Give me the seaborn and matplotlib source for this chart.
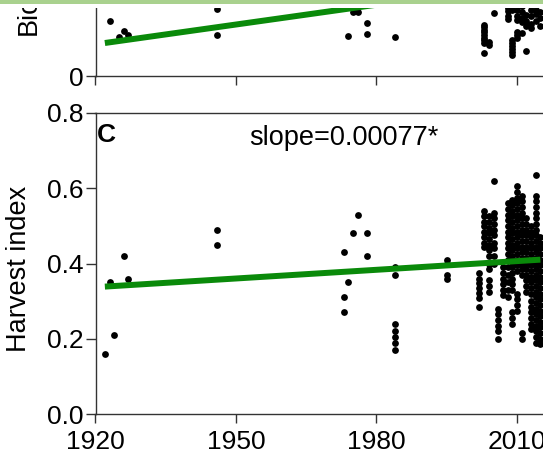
import matplotlib
matplotlib.use("Agg")
import matplotlib.pyplot as plt
from matplotlib.patches import Rectangle
import numpy as np
import pandas as pd
import seaborn as sns

# ---------------- data ----------------
# Panel B (biomass) - only the lower part is visible
bio_early_years = [1923, 1925, 1926, 1927, 1946, 1946, 1974, 1975, 1976, 1978, 1978, 1984]
bio_early_values = [5.5, 3.9, 4.5, 4.1, 6.7, 4.1, 4.0, 6.4, 6.4, 5.3, 4.2, 3.9]
bio_2003 = [5.1, 4.9, 4.6, 4.4, 4.1, 3.8, 3.6, 3.3, 2.3]
bio_2004 = [3.1, 3.4]
bio_2005 = [6.3, 7.2, 7.6]
bio_2007 = [7.5, 8.0]
bio_2008 = [6.8, 6.5, 6.0, 5.7, 7.5, 8.2]
bio_2009 = [3.6, 3.3, 3.0, 2.7, 2.4, 2.1, 6.6, 7.0, 8.0]
bio_2010 = [4.4, 4.1, 3.8, 5.6, 6.0, 6.6, 7.2, 8.5]
bio_2011 = [4.3, 5.4, 5.8, 6.4, 7.0]
bio_2012 = [2.5, 5.0, 5.5, 6.1, 7.3]
bio_2013 = [4.8, 5.2, 6.0, 6.6, 7.8]
bio_2014 = [5.5, 6.2, 6.6, 8.0]
bio_2015 = [5.0, 5.8, 6.4, 7.4]
bio_fit = {"start": 1922, "end": 2015, "intercept_1922": 3.3, "slope": 0.066}

# Panel C (harvest index)
hi_early_years = [1922, 1923, 1924, 1926, 1927, 1946, 1946, 1973, 1973, 1973, 1974,
                  1975, 1976, 1978, 1978, 1984, 1984, 1984, 1984, 1984, 1984, 1984,
                  1995, 1995, 1995, 1995]
hi_early_values = [0.16, 0.35, 0.21, 0.42, 0.36, 0.49, 0.45, 0.43, 0.31, 0.27, 0.35,
                   0.48, 0.53, 0.48, 0.42, 0.39, 0.37, 0.24, 0.22, 0.205, 0.19, 0.17,
                   0.41, 0.40, 0.37, 0.36]
hi_2002 = [0.375, 0.36, 0.348, 0.334, 0.321, 0.308, 0.285]
hi_2003 = [0.54, 0.525, 0.51, 0.50, 0.485, 0.47, 0.455, 0.445]
hi_2004 = [0.525, 0.51, 0.495, 0.48, 0.465, 0.45, 0.435, 0.42, 0.40, 0.385, 0.355, 0.34, 0.325]
hi_2005 = [0.62, 0.535, 0.52, 0.505, 0.49, 0.475, 0.455, 0.44, 0.42, 0.40]
hi_2006 = [0.28, 0.265, 0.25, 0.235, 0.22, 0.20]
hi_2007 = [0.39, 0.375, 0.36, 0.345, 0.33, 0.315]
hi_2008 = [0.56, 0.545, 0.53, 0.515, 0.50, 0.485, 0.47, 0.455, 0.44, 0.425, 0.41,
           0.39, 0.37, 0.35, 0.33, 0.31]
hi_2009 = [0.57, 0.555, 0.54, 0.525, 0.51, 0.495, 0.48, 0.465, 0.45, 0.435, 0.42,
           0.405, 0.39, 0.375, 0.36, 0.345, 0.33, 0.27, 0.255, 0.24]
hi_2010 = [0.605, 0.59, 0.575, 0.56, 0.545, 0.53, 0.515, 0.50, 0.485, 0.47, 0.455,
           0.44, 0.425, 0.41, 0.395, 0.38, 0.32, 0.305, 0.29, 0.275]
hi_2011 = [0.58, 0.565, 0.55, 0.535, 0.52, 0.505, 0.49, 0.475, 0.46, 0.445, 0.43,
           0.415, 0.40, 0.385, 0.37, 0.215, 0.20]
hi_2012 = [0.52, 0.505, 0.49, 0.475, 0.46, 0.445, 0.43, 0.415, 0.40, 0.385, 0.37,
           0.355, 0.34, 0.325]
hi_2013 = [0.50, 0.485, 0.47, 0.455, 0.44, 0.425, 0.41, 0.395, 0.38, 0.365, 0.35,
           0.335, 0.32, 0.30, 0.285, 0.27, 0.255, 0.24, 0.225]
hi_2014 = [0.635, 0.58, 0.565, 0.55, 0.535, 0.52, 0.505, 0.49, 0.475, 0.46, 0.445,
           0.43, 0.415, 0.40, 0.385, 0.37, 0.355, 0.34, 0.325, 0.31, 0.295, 0.28,
           0.265, 0.25, 0.235, 0.22, 0.205, 0.19]
hi_2015 = [0.47, 0.455, 0.44, 0.425, 0.41, 0.395, 0.38, 0.365, 0.35, 0.335, 0.32,
           0.305, 0.29, 0.275, 0.26, 0.245, 0.23, 0.215, 0.20, 0.185]
hi_fit = {"start": 1922, "end": 2015, "intercept_1922": 0.3386, "slope": 0.00077}

x_ticks = [1920, 1950, 1980, 2010]
hi_ticks = [0.0, 0.2, 0.4, 0.6, 0.8]
bio_ticks = [0]
slope_label = "slope=0.00077*"
panel_letter = "C"

# ---------------- build tables ----------------
def table(early_y, early_v, groups):
    ys, vs = list(early_y), list(early_v)
    for yr, vals in groups:
        ys += [yr] * len(vals)
        vs += vals
    return pd.DataFrame({"year": ys, "value": vs})

bio_df = table(bio_early_years, bio_early_values,
               [(2003, bio_2003), (2004, bio_2004), (2005, bio_2005), (2007, bio_2007),
                (2008, bio_2008), (2009, bio_2009), (2010, bio_2010), (2011, bio_2011),
                (2012, bio_2012), (2013, bio_2013), (2014, bio_2014), (2015, bio_2015)])
hi_df = table(hi_early_years, hi_early_values,
              [(2002, hi_2002), (2003, hi_2003), (2004, hi_2004), (2005, hi_2005),
               (2006, hi_2006), (2007, hi_2007), (2008, hi_2008), (2009, hi_2009),
               (2010, hi_2010), (2011, hi_2011), (2012, hi_2012), (2013, hi_2013),
               (2014, hi_2014), (2015, hi_2015)])

def fit_df(fit):
    xs = [fit["start"], fit["end"]]
    ys = [fit["intercept_1922"] + fit["slope"] * (x - 1922) for x in xs]
    return pd.DataFrame({"year": xs, "value": ys})

# ---------------- style ----------------
sns.set_style("white")
plt.rcParams["font.family"] = ["Liberation Sans", "DejaVu Sans"]
plt.rcParams["text.color"] = "black"
plt.rcParams["axes.labelcolor"] = "black"
plt.rcParams["axes.edgecolor"] = "#333333"
plt.rcParams["axes.linewidth"] = 1.0
plt.rcParams["xtick.color"] = "#333333"
plt.rcParams["ytick.color"] = "#333333"
plt.rcParams["xtick.labelcolor"] = "black"
plt.rcParams["ytick.labelcolor"] = "black"

W, H = 543, 458
fig = plt.figure(figsize=(W / 100, H / 100), dpi=100)

left_px, ax_w_px, ax_h_px = 95.5, 491.7, 301
axB = fig.add_axes([left_px / W, (H - 76) / H, ax_w_px / W, ax_h_px / H])
axC = fig.add_axes([left_px / W, (H - 414) / H, ax_w_px / W, ax_h_px / H])

green = "#0a8a0a"
for ax, df, fit in [(axB, bio_df, bio_fit), (axC, hi_df, hi_fit)]:
    sns.scatterplot(data=df, x="year", y="value", ax=ax, color="black",
                    s=24, linewidth=0, zorder=2)
    sns.lineplot(data=fit_df(fit), x="year", y="value", ax=ax, color=green,
                 linewidth=4.3, zorder=3, solid_capstyle="butt")
    ax.set_xlim(1920, 2025)
    ax.set_xticks(x_ticks)
    ax.set_xlabel("")
    ax.tick_params(axis="x", direction="out", length=6.5, width=1.0, pad=5,
                   labelsize=19, bottom=True)
    ax.tick_params(axis="y", direction="out", length=7, width=1.0, pad=1.5,
                   labelsize=19, left=True)
    for sp in ax.spines.values():
        sp.set_visible(True)

# Panel B
axB.set_ylim(0, 30.1)
axB.set_yticks(bio_ticks)
axB.set_xticklabels([])
axB.set_ylabel("Biomass", fontsize=19.5, loc="bottom")
axB.yaxis.label.set_verticalalignment("center")
axB.yaxis.set_label_coords(-0.1365, 0.136)

# Panel C
axC.set_ylim(0, 0.8)
axC.set_yticks(hi_ticks)
axC.set_yticklabels([f"{t:.1f}" for t in hi_ticks])
axC.set_xticklabels([str(t) for t in x_ticks])
axC.set_ylabel("Harvest index", fontsize=19.5)
axC.yaxis.label.set_verticalalignment("center")
axC.yaxis.set_label_coords(-0.156, 0.483)
axC.text(1973, 0.715, slope_label, ha="center", va="baseline", fontsize=19.5,
         color="black")
axC.text(1920.4, 0.723, panel_letter, ha="left", va="baseline", fontsize=19,
         fontweight="bold", color="black")

# cropped top edge of the source image
fig.patches.append(Rectangle((0, 1 - 8 / H), 1, 8 / H, transform=fig.transFigure,
                             facecolor="white", edgecolor="none", zorder=10))
fig.patches.append(Rectangle((0, 1 - 4 / H), 1, 4 / H, transform=fig.transFigure,
                             facecolor="#a9d18e", edgecolor="none", zorder=11))

fig.savefig("out.png", dpi=100)
